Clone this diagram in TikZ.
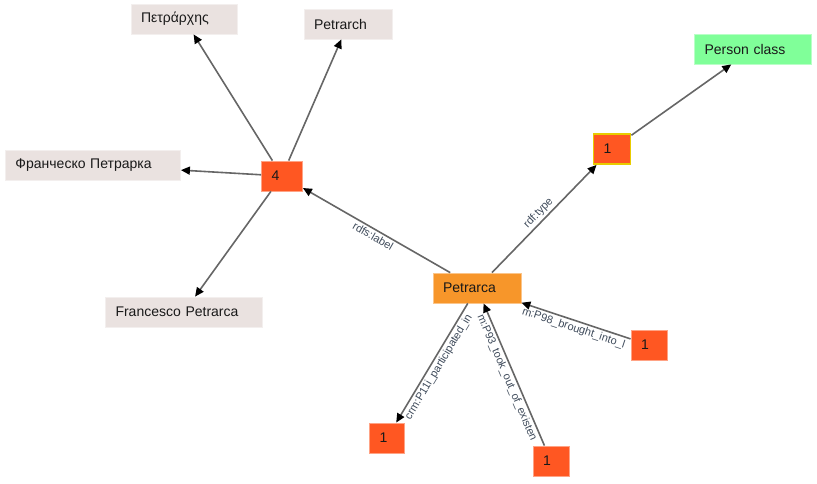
\documentclass[tikz,border=0pt]{standalone}
\usepackage{fontspec}
\setmainfont{Liberation Sans}
\usepackage{tikz}
\usetikzlibrary{arrows.meta, positioning}
\definecolor{termfill}{HTML}{EAE2E0}
\definecolor{classfill}{HTML}{80FF99}
\definecolor{blankfill}{HTML}{FF5722}
\definecolor{subjfill}{HTML}{F7962A}
\definecolor{selborder}{HTML}{E8CC00}
\definecolor{edgegray}{HTML}{666666}
\definecolor{labelink}{HTML}{3E4A5A}
\tikzset{
  termnode/.style={
    rectangle, fill=#1, draw=#1!55!white, line width=0.8pt,
    minimum height=30pt, inner xsep=10pt, inner ysep=0pt,
    align=left, font=\fontsize{14}{16}\selectfont, text=black!90
  },
  linkarrow/.style={-{Triangle[length=9pt,width=8pt,color=black]},
    line width=1.6pt, color=edgegray},
  linklabel/.style={font=\fontsize{11}{13}\selectfont, text=labelink,
    sloped, inner sep=2pt, pos=0.5},
}

\begin{document}
\begin{tikzpicture}[x=1pt, y=-1pt]
  \useasboundingbox (0,0) rectangle (817,483);
  % literal labels
  \node[termnode=termfill, text width=86pt](greek)   at (184,19)  {Πετράρχης};
  \node[termnode=termfill, text width=68pt](english) at (348,24)  {Petrarch};
  \node[termnode=termfill, text width=155pt](russian) at (93,165) {Франческо Петрарка};
  \node[termnode=termfill, text width=137pt](italian) at (184,312) {Francesco Petrarca};
  \node[termnode=classfill, text width=97pt](person) at (753,49) {Person class};
  % grouped / blank nodes
  \node[termnode=blankfill, text width=21pt](labels) at (282,176) {4};
  \node[termnode=blankfill, text width=17pt, draw=selborder, line width=1.8pt](types) at (612,149) {1};
  \node[termnode=subjfill, text width=68pt](petrarca) at (477,288) {Petrarca};
  \node[termnode=blankfill, text width=16pt](brought) at (649,345) {1};
  \node[termnode=blankfill, text width=15pt](partin)  at (387,438) {1};
  \node[termnode=blankfill, text width=16pt](tookout) at (551,461) {1};

  \draw[linkarrow](labels)--(greek);
  \draw[linkarrow](labels)--(english);
  \draw[linkarrow](labels)--(russian);
  \draw[linkarrow](labels)--(italian);
  \draw[linkarrow](types)--(person);
  \draw[linkarrow](petrarca)--(labels) node[linklabel, below]{rdfs:label};
  \draw[linkarrow](petrarca)--(types) node[linklabel, above]{rdf:type};
  \draw[linkarrow](petrarca)--(partin) node[linklabel, below]{crm:P11i\_participated\_in};
  \draw[linkarrow](tookout)--(petrarca) node[linklabel, below]{m:P93\_took\_out\_of\_existen};
  \draw[linkarrow](brought)--(petrarca) node[linklabel, below]{m:P98\_brought\_into\_l};
\end{tikzpicture}
\end{document}
